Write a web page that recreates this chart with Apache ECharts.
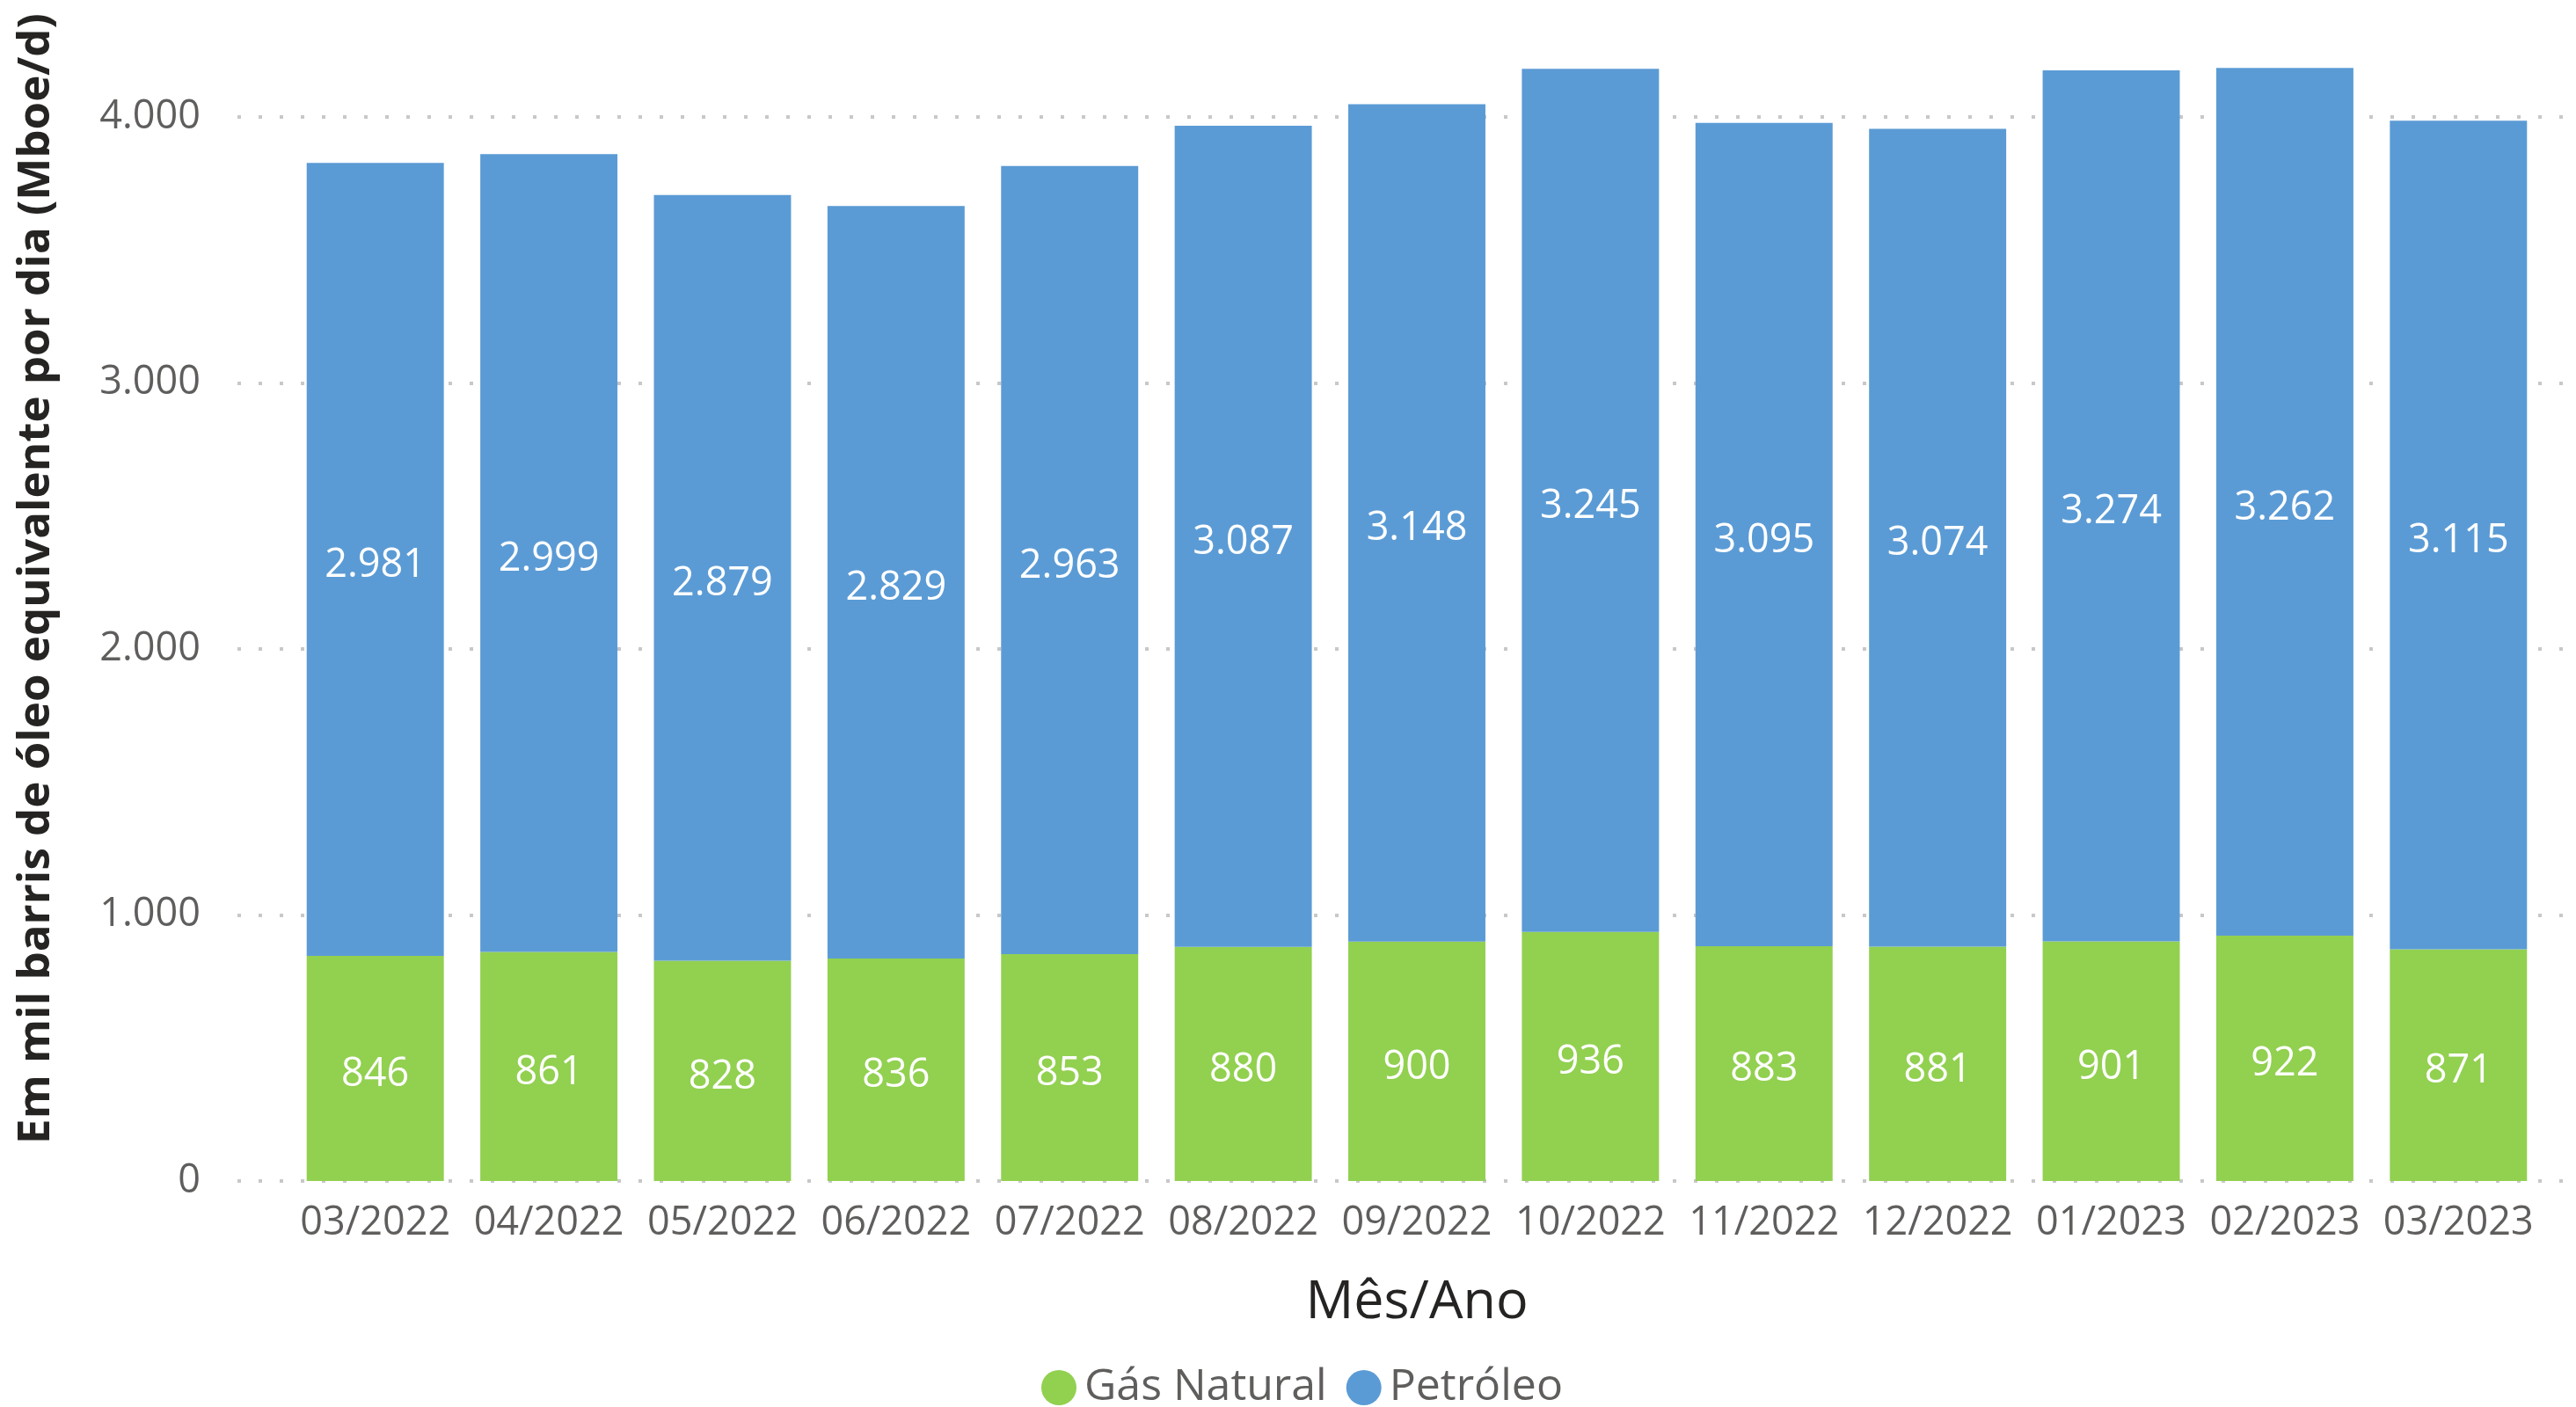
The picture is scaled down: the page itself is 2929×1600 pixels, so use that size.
<!DOCTYPE html>
<html>
<head>
<meta charset="utf-8">
<script src="https://cdn.jsdelivr.net/npm/echarts@6/dist/echarts.min.js"></script>
<style>
html,body{margin:0;padding:0;background:#fff;}
#chart{width:2929px;height:1600px;}
</style>
</head>
<body>
<div id="chart"></div>
<script>
const categories = ['03/2022','04/2022','05/2022','06/2022','07/2022','08/2022','09/2022','10/2022','11/2022','12/2022','01/2023','02/2023','03/2023'];
const gasNatural = [846, 861, 828, 836, 853, 880, 900, 936, 883, 881, 901, 922, 871];
const petroleo = [2981, 2999, 2879, 2829, 2963, 3087, 3148, 3245, 3095, 3074, 3274, 3262, 3115];
const seriesNames = ['Gás Natural', 'Petróleo'];
const yTicks = [0, 1000, 2000, 3000, 4000];
const yTitle = 'Em mil barris de óleo equivalente por dia (Mboe/d)';
const xTitle = 'Mês/Ano';

const FONT = 'Open Sans';
function fmt(v){
  return String(Math.round(v)).replace(/\B(?=(\d{3})+(?!\d))/g, '.');
}

const chart = echarts.init(document.getElementById('chart'), null, {renderer:'canvas'});
const yMin = yTicks[0], yMax = yTicks[yTicks.length-1], yInt = yTicks[1]-yTicks[0];

const labelStyle = {
  show: true, position: 'inside', color: '#ffffff',
  fontFamily: FONT, fontSize: 45, offset: [0, 7],
  formatter: p => fmt(p.value)
};

chart.setOption({
  animation: false,
  backgroundColor: '#ffffff',
  grid: [
    {left: 328, right: 35, top: 133, bottom: 257, containLabel: false},
    {left: 270, right: 14, top: 133, bottom: 257, containLabel: false}
  ],
  legend: {
    data: seriesNames,
    left: 1184, top: 1553,
    icon: 'circle', itemWidth: 40, itemHeight: 40, itemGap: 22,
    padding: 0,
    textStyle: {color: '#605E5C', fontFamily: FONT, fontSize: 50, padding: [0,0,0,4]}
  },
  xAxis: [
    {
      type: 'category', gridIndex: 0, data: categories,
      axisLine: {show: false}, axisTick: {show: false},
      axisLabel: {color: '#605E5C', fontFamily: FONT, fontSize: 45, margin: 26, interval: 0},
      name: xTitle, nameLocation: 'middle', nameGap: 108,
      nameTextStyle: {color: '#252423', fontFamily: FONT, fontSize: 61}
    },
    {type: 'value', gridIndex: 1, min: 0, max: 1, show: false}
  ],
  yAxis: [
    {type: 'value', gridIndex: 0, min: yMin, max: yMax, interval: yInt, show: false, splitLine: {show: false}},
    {
      type: 'value', gridIndex: 1, min: yMin, max: yMax, interval: yInt,
      axisLine: {show: false}, axisTick: {show: false},
      axisLabel: {color: '#605E5C', fontFamily: FONT, fontSize: 45, margin: 42, padding: [6,0,0,0], formatter: v => fmt(v)},
      splitLine: {show: true, lineStyle: {color: '#C8C8C8', width: 4, type: [4, 20]}}
    }
  ],
  graphic: [{
    type: 'text', x: 41, y: 658, rotation: Math.PI/2,
    style: {text: yTitle, fill: '#252423', fontFamily: FONT, fontWeight: 'bold', fontSize: 51, align: 'center', verticalAlign: 'middle'}
  }],
  series: [
    {
      name: seriesNames[0], type: 'bar', stack: 'total', xAxisIndex: 0, yAxisIndex: 0,
      data: gasNatural, barCategoryGap: '21%', clip: false,
      itemStyle: {color: '#92D050'}, label: labelStyle
    },
    {
      name: seriesNames[1], type: 'bar', stack: 'total', xAxisIndex: 0, yAxisIndex: 0,
      data: petroleo, barCategoryGap: '21%', clip: false,
      itemStyle: {color: '#5B9BD5'}, label: labelStyle
    }
  ]
});
</script>
</body>
</html>
